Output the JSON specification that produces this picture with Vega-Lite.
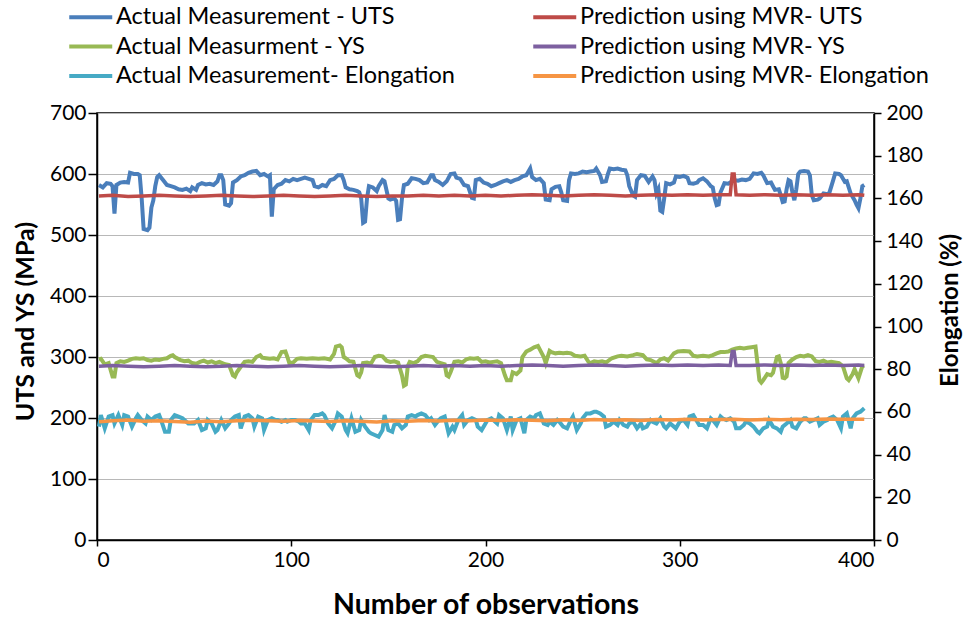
{
  "$schema": "https://vega.github.io/schema/vega-lite/v6.json",
  "width": 777,
  "height": 427,
  "autosize": {"type": "none"},
  "padding": {"left": 97, "top": 113, "right": 95, "bottom": 81},
  "background": "#ffffff",
  "config": {
    "font": "Lato",
    "view": {"stroke": "#000000", "strokeWidth": 1.5},
    "axis": {"labelColor": "#000000", "titleColor": "#000000", "domainColor": "#000000", "tickColor": "#000000", "domainWidth": 1.5, "tickWidth": 1.5, "labelFont": "Lato", "titleFont": "Lato"}
  },
  "datasets": {
    "uts": [
      {"n":1,"v":582},{"n":3,"v":578},{"n":5,"v":585},{"n":7,"v":584},{"n":8,"v":580},{"n":9,"v":535},{"n":10,"v":582},{"n":12,"v":586},{"n":14,"v":587},{"n":16,"v":586},{"n":17,"v":602},{"n":19,"v":600},{"n":21,"v":600},{"n":22,"v":598},{"n":23,"v":560},{"n":24,"v":510},{"n":26,"v":508},{"n":27,"v":512},{"n":28,"v":545},{"n":29,"v":557},{"n":30,"v":580},{"n":31,"v":595},{"n":32,"v":598},{"n":34,"v":590},{"n":36,"v":582},{"n":38,"v":580},{"n":40,"v":578},{"n":42,"v":575},{"n":44,"v":574},{"n":46,"v":576},{"n":48,"v":572},{"n":49,"v":578},{"n":51,"v":574},{"n":52,"v":582},{"n":54,"v":585},{"n":56,"v":583},{"n":58,"v":584},{"n":60,"v":582},{"n":62,"v":588},{"n":63,"v":598},{"n":64,"v":598},{"n":65,"v":590},{"n":66,"v":550},{"n":68,"v":548},{"n":69,"v":552},{"n":70,"v":586},{"n":72,"v":590},{"n":74,"v":596},{"n":76,"v":598},{"n":78,"v":602},{"n":80,"v":604},{"n":82,"v":605},{"n":84,"v":598},{"n":86,"v":600},{"n":88,"v":596},{"n":89,"v":598},{"n":90,"v":530},{"n":91,"v":575},{"n":93,"v":582},{"n":95,"v":584},{"n":97,"v":590},{"n":99,"v":588},{"n":101,"v":592},{"n":103,"v":590},{"n":105,"v":592},{"n":107,"v":594},{"n":109,"v":592},{"n":111,"v":590},{"n":112,"v":580},{"n":114,"v":578},{"n":116,"v":582},{"n":118,"v":580},{"n":120,"v":590},{"n":122,"v":592},{"n":124,"v":598},{"n":126,"v":598},{"n":127,"v":590},{"n":128,"v":578},{"n":130,"v":575},{"n":132,"v":574},{"n":134,"v":572},{"n":135,"v":570},{"n":136,"v":560},{"n":137,"v":520},{"n":138,"v":522},{"n":139,"v":560},{"n":140,"v":580},{"n":142,"v":578},{"n":144,"v":572},{"n":145,"v":580},{"n":147,"v":590},{"n":148,"v":588},{"n":150,"v":560},{"n":151,"v":558},{"n":153,"v":560},{"n":154,"v":556},{"n":155,"v":525},{"n":156,"v":526},{"n":157,"v":560},{"n":158,"v":582},{"n":160,"v":584},{"n":162,"v":593},{"n":164,"v":592},{"n":166,"v":590},{"n":168,"v":585},{"n":170,"v":586},{"n":172,"v":598},{"n":173,"v":598},{"n":174,"v":590},{"n":176,"v":587},{"n":178,"v":582},{"n":180,"v":588},{"n":182,"v":600},{"n":184,"v":601},{"n":185,"v":594},{"n":187,"v":592},{"n":189,"v":582},{"n":191,"v":580},{"n":193,"v":561},{"n":194,"v":560},{"n":195,"v":590},{"n":197,"v":592},{"n":199,"v":586},{"n":201,"v":584},{"n":203,"v":580},{"n":205,"v":582},{"n":207,"v":585},{"n":209,"v":588},{"n":211,"v":590},{"n":213,"v":587},{"n":215,"v":590},{"n":217,"v":592},{"n":219,"v":596},{"n":221,"v":598},{"n":223,"v":609},{"n":224,"v":595},{"n":226,"v":590},{"n":228,"v":592},{"n":230,"v":585},{"n":231,"v":558},{"n":233,"v":557},{"n":234,"v":575},{"n":236,"v":579},{"n":238,"v":580},{"n":239,"v":570},{"n":240,"v":557},{"n":242,"v":556},{"n":243,"v":590},{"n":244,"v":601},{"n":246,"v":600},{"n":248,"v":601},{"n":250,"v":604},{"n":252,"v":603},{"n":254,"v":604},{"n":256,"v":605},{"n":257,"v":609},{"n":259,"v":598},{"n":260,"v":587},{"n":262,"v":588},{"n":263,"v":600},{"n":264,"v":609},{"n":266,"v":608},{"n":268,"v":609},{"n":270,"v":607},{"n":272,"v":606},{"n":273,"v":598},{"n":274,"v":580},{"n":276,"v":565},{"n":277,"v":563},{"n":278,"v":590},{"n":280,"v":598},{"n":282,"v":597},{"n":284,"v":587},{"n":286,"v":596},{"n":287,"v":590},{"n":288,"v":568},{"n":289,"v":575},{"n":290,"v":540},{"n":291,"v":538},{"n":292,"v":560},{"n":293,"v":585},{"n":295,"v":583},{"n":297,"v":586},{"n":298,"v":596},{"n":300,"v":595},{"n":302,"v":597},{"n":304,"v":594},{"n":305,"v":585},{"n":307,"v":584},{"n":309,"v":586},{"n":310,"v":590},{"n":312,"v":593},{"n":314,"v":588},{"n":316,"v":580},{"n":317,"v":578},{"n":318,"v":560},{"n":319,"v":549},{"n":320,"v":550},{"n":321,"v":570},{"n":323,"v":585},{"n":325,"v":584},{"n":326,"v":586},{"n":328,"v":590},{"n":330,"v":589},{"n":332,"v":591},{"n":334,"v":590},{"n":336,"v":592},{"n":338,"v":601},{"n":340,"v":600},{"n":342,"v":602},{"n":343,"v":598},{"n":345,"v":585},{"n":347,"v":586},{"n":348,"v":580},{"n":349,"v":574},{"n":351,"v":575},{"n":352,"v":565},{"n":353,"v":554},{"n":354,"v":555},{"n":355,"v":575},{"n":356,"v":590},{"n":357,"v":588},{"n":358,"v":570},{"n":359,"v":557},{"n":360,"v":575},{"n":361,"v":600},{"n":362,"v":604},{"n":364,"v":605},{"n":366,"v":604},{"n":367,"v":598},{"n":368,"v":565},{"n":369,"v":557},{"n":371,"v":558},{"n":372,"v":560},{"n":374,"v":568},{"n":376,"v":567},{"n":377,"v":569},{"n":379,"v":590},{"n":380,"v":601},{"n":382,"v":600},{"n":383,"v":598},{"n":385,"v":587},{"n":386,"v":588},{"n":388,"v":568},{"n":390,"v":557},{"n":391,"v":550},{"n":392,"v":544},{"n":393,"v":560},{"n":394,"v":580},{"n":395,"v":582}
    ],
    "puts": [
      {"n":1,"v":564},{"n":8,"v":565},{"n":16,"v":563},{"n":24,"v":564},{"n":32,"v":565},{"n":40,"v":564},{"n":48,"v":563},{"n":56,"v":564},{"n":64,"v":565},{"n":72,"v":564},{"n":80,"v":563},{"n":88,"v":564},{"n":96,"v":565},{"n":104,"v":564},{"n":112,"v":563},{"n":120,"v":564},{"n":128,"v":565},{"n":136,"v":564},{"n":144,"v":563},{"n":152,"v":564},{"n":160,"v":564},{"n":168,"v":565},{"n":176,"v":564},{"n":184,"v":565},{"n":192,"v":564},{"n":200,"v":565},{"n":208,"v":564},{"n":216,"v":565},{"n":224,"v":566},{"n":232,"v":565},{"n":240,"v":564},{"n":248,"v":565},{"n":256,"v":566},{"n":264,"v":565},{"n":272,"v":564},{"n":280,"v":565},{"n":288,"v":566},{"n":296,"v":565},{"n":304,"v":566},{"n":312,"v":565},{"n":320,"v":566},{"n":326,"v":566},{"n":327,"v":600},{"n":328,"v":600},{"n":329,"v":566},{"n":336,"v":565},{"n":344,"v":566},{"n":352,"v":565},{"n":360,"v":566},{"n":368,"v":565},{"n":376,"v":566},{"n":384,"v":565},{"n":392,"v":566},{"n":395,"v":565}
    ],
    "ys": [
      {"n":1,"v":296},{"n":2,"v":297},{"n":4,"v":288},{"n":6,"v":290},{"n":8,"v":268},{"n":9,"v":268},{"n":10,"v":290},{"n":12,"v":293},{"n":14,"v":292},{"n":16,"v":294},{"n":18,"v":297},{"n":20,"v":298},{"n":22,"v":297},{"n":24,"v":298},{"n":26,"v":295},{"n":28,"v":294},{"n":30,"v":296},{"n":32,"v":295},{"n":34,"v":297},{"n":36,"v":298},{"n":38,"v":302},{"n":39,"v":303},{"n":40,"v":300},{"n":43,"v":295},{"n":45,"v":293},{"n":47,"v":294},{"n":49,"v":290},{"n":51,"v":289},{"n":53,"v":292},{"n":55,"v":294},{"n":57,"v":291},{"n":59,"v":293},{"n":61,"v":290},{"n":63,"v":292},{"n":66,"v":288},{"n":68,"v":287},{"n":70,"v":270},{"n":71,"v":268},{"n":72,"v":275},{"n":74,"v":284},{"n":76,"v":292},{"n":78,"v":293},{"n":80,"v":292},{"n":82,"v":300},{"n":84,"v":303},{"n":85,"v":299},{"n":87,"v":298},{"n":89,"v":297},{"n":91,"v":298},{"n":93,"v":296},{"n":95,"v":308},{"n":97,"v":309},{"n":98,"v":300},{"n":99,"v":290},{"n":101,"v":291},{"n":103,"v":297},{"n":105,"v":298},{"n":108,"v":297},{"n":111,"v":298},{"n":114,"v":297},{"n":117,"v":298},{"n":120,"v":296},{"n":122,"v":305},{"n":123,"v":317},{"n":125,"v":319},{"n":126,"v":316},{"n":127,"v":300},{"n":128,"v":298},{"n":130,"v":293},{"n":132,"v":292},{"n":134,"v":270},{"n":135,"v":268},{"n":136,"v":275},{"n":137,"v":290},{"n":139,"v":291},{"n":141,"v":289},{"n":143,"v":300},{"n":145,"v":302},{"n":147,"v":301},{"n":149,"v":294},{"n":151,"v":292},{"n":153,"v":293},{"n":155,"v":291},{"n":157,"v":270},{"n":158,"v":253},{"n":159,"v":255},{"n":160,"v":285},{"n":161,"v":292},{"n":163,"v":290},{"n":165,"v":293},{"n":167,"v":300},{"n":169,"v":302},{"n":171,"v":301},{"n":173,"v":300},{"n":175,"v":292},{"n":177,"v":290},{"n":179,"v":288},{"n":180,"v":270},{"n":181,"v":268},{"n":182,"v":275},{"n":184,"v":292},{"n":186,"v":293},{"n":188,"v":291},{"n":190,"v":296},{"n":192,"v":298},{"n":194,"v":297},{"n":196,"v":298},{"n":198,"v":292},{"n":200,"v":293},{"n":202,"v":291},{"n":204,"v":292},{"n":206,"v":293},{"n":208,"v":290},{"n":210,"v":270},{"n":211,"v":262},{"n":213,"v":262},{"n":214,"v":275},{"n":216,"v":272},{"n":218,"v":278},{"n":219,"v":300},{"n":221,"v":309},{"n":223,"v":312},{"n":225,"v":316},{"n":227,"v":318},{"n":228,"v":312},{"n":229,"v":306},{"n":230,"v":300},{"n":231,"v":290},{"n":233,"v":310},{"n":234,"v":308},{"n":236,"v":306},{"n":238,"v":307},{"n":240,"v":306},{"n":242,"v":307},{"n":244,"v":306},{"n":246,"v":302},{"n":249,"v":301},{"n":251,"v":302},{"n":253,"v":292},{"n":254,"v":290},{"n":256,"v":293},{"n":258,"v":292},{"n":260,"v":293},{"n":262,"v":291},{"n":265,"v":298},{"n":268,"v":301},{"n":270,"v":302},{"n":273,"v":301},{"n":276,"v":303},{"n":278,"v":305},{"n":281,"v":303},{"n":283,"v":296},{"n":285,"v":295},{"n":288,"v":290},{"n":290,"v":296},{"n":292,"v":298},{"n":294,"v":294},{"n":297,"v":306},{"n":299,"v":309},{"n":302,"v":310},{"n":305,"v":309},{"n":307,"v":302},{"n":309,"v":301},{"n":312,"v":302},{"n":315,"v":301},{"n":317,"v":303},{"n":319,"v":306},{"n":321,"v":308},{"n":323,"v":308},{"n":325,"v":309},{"n":327,"v":312},{"n":329,"v":314},{"n":331,"v":315},{"n":333,"v":314},{"n":335,"v":315},{"n":337,"v":316},{"n":339,"v":317},{"n":340,"v":290},{"n":341,"v":262},{"n":342,"v":258},{"n":343,"v":262},{"n":345,"v":272},{"n":347,"v":270},{"n":348,"v":274},{"n":350,"v":300},{"n":351,"v":301},{"n":352,"v":290},{"n":353,"v":266},{"n":354,"v":265},{"n":355,"v":268},{"n":356,"v":290},{"n":358,"v":296},{"n":360,"v":300},{"n":362,"v":302},{"n":364,"v":301},{"n":366,"v":303},{"n":368,"v":301},{"n":370,"v":293},{"n":372,"v":292},{"n":374,"v":294},{"n":376,"v":291},{"n":378,"v":292},{"n":380,"v":291},{"n":382,"v":290},{"n":384,"v":285},{"n":386,"v":265},{"n":387,"v":262},{"n":389,"v":272},{"n":390,"v":280},{"n":392,"v":265},{"n":394,"v":285},{"n":395,"v":286}
    ],
    "pys": [
      {"n":1,"v":285},{"n":8,"v":286},{"n":16,"v":285},{"n":24,"v":284},{"n":32,"v":285},{"n":40,"v":286},{"n":48,"v":285},{"n":56,"v":284},{"n":64,"v":285},{"n":72,"v":286},{"n":80,"v":285},{"n":88,"v":284},{"n":96,"v":285},{"n":104,"v":286},{"n":112,"v":285},{"n":120,"v":284},{"n":128,"v":285},{"n":136,"v":286},{"n":144,"v":285},{"n":152,"v":284},{"n":160,"v":285},{"n":168,"v":286},{"n":176,"v":285},{"n":184,"v":286},{"n":192,"v":285},{"n":200,"v":286},{"n":208,"v":285},{"n":216,"v":286},{"n":224,"v":287},{"n":232,"v":286},{"n":240,"v":285},{"n":248,"v":286},{"n":256,"v":287},{"n":264,"v":286},{"n":272,"v":285},{"n":280,"v":286},{"n":288,"v":287},{"n":296,"v":286},{"n":304,"v":287},{"n":312,"v":286},{"n":320,"v":287},{"n":326,"v":286},{"n":327,"v":309},{"n":328,"v":309},{"n":329,"v":286},{"n":336,"v":286},{"n":344,"v":287},{"n":352,"v":286},{"n":360,"v":287},{"n":368,"v":286},{"n":376,"v":287},{"n":384,"v":286},{"n":392,"v":287},{"n":395,"v":286}
    ],
    "el": [
      {"n":1,"v":53.1},{"n":2,"v":58.5},{"n":4,"v":52.3},{"n":6,"v":57.8},{"n":8,"v":58.5},{"n":9,"v":54.6},{"n":11,"v":58.5},{"n":13,"v":53.9},{"n":14,"v":58.5},{"n":16,"v":57.8},{"n":18,"v":53.1},{"n":20,"v":57.0},{"n":21,"v":58.5},{"n":23,"v":56.2},{"n":25,"v":54.6},{"n":26,"v":57.8},{"n":28,"v":56.2},{"n":30,"v":57.8},{"n":32,"v":58.5},{"n":33,"v":56.2},{"n":35,"v":50.7},{"n":37,"v":50.7},{"n":38,"v":56.2},{"n":40,"v":58.5},{"n":42,"v":57.8},{"n":44,"v":57.0},{"n":45,"v":56.2},{"n":47,"v":54.6},{"n":49,"v":54.6},{"n":50,"v":54.6},{"n":52,"v":56.2},{"n":54,"v":51.5},{"n":56,"v":52.3},{"n":57,"v":56.2},{"n":59,"v":54.6},{"n":61,"v":50.7},{"n":62,"v":51.5},{"n":64,"v":56.2},{"n":66,"v":52.3},{"n":68,"v":54.6},{"n":69,"v":56.2},{"n":71,"v":57.8},{"n":73,"v":58.5},{"n":74,"v":52.3},{"n":76,"v":57.8},{"n":78,"v":58.5},{"n":80,"v":57.0},{"n":81,"v":53.1},{"n":83,"v":57.8},{"n":85,"v":57.0},{"n":86,"v":51.5},{"n":88,"v":56.2},{"n":90,"v":57.0},{"n":92,"v":56.2},{"n":93,"v":56.2},{"n":95,"v":55.4},{"n":97,"v":56.2},{"n":98,"v":55.4},{"n":100,"v":56.2},{"n":102,"v":56.2},{"n":104,"v":55.4},{"n":105,"v":54.6},{"n":107,"v":54.6},{"n":109,"v":51.5},{"n":110,"v":56.2},{"n":112,"v":58.5},{"n":114,"v":58.5},{"n":116,"v":59.3},{"n":117,"v":58.5},{"n":119,"v":54.6},{"n":121,"v":52.3},{"n":123,"v":56.2},{"n":124,"v":59.3},{"n":126,"v":57.8},{"n":128,"v":51.5},{"n":129,"v":50.0},{"n":131,"v":57.0},{"n":133,"v":50.7},{"n":135,"v":51.5},{"n":136,"v":56.2},{"n":138,"v":53.1},{"n":140,"v":50.7},{"n":141,"v":50.0},{"n":143,"v":49.2},{"n":145,"v":48.4},{"n":147,"v":51.5},{"n":148,"v":58.5},{"n":150,"v":51.5},{"n":152,"v":50.7},{"n":153,"v":53.9},{"n":155,"v":54.6},{"n":157,"v":52.3},{"n":159,"v":53.9},{"n":160,"v":57.8},{"n":162,"v":58.5},{"n":164,"v":57.8},{"n":165,"v":58.5},{"n":167,"v":59.3},{"n":169,"v":58.5},{"n":171,"v":56.2},{"n":172,"v":57.0},{"n":174,"v":53.9},{"n":176,"v":56.2},{"n":177,"v":57.0},{"n":179,"v":57.8},{"n":181,"v":50.0},{"n":183,"v":53.1},{"n":184,"v":51.5},{"n":186,"v":56.2},{"n":188,"v":58.5},{"n":189,"v":53.9},{"n":191,"v":56.2},{"n":193,"v":57.0},{"n":195,"v":56.2},{"n":196,"v":53.1},{"n":198,"v":51.5},{"n":200,"v":54.6},{"n":201,"v":56.2},{"n":203,"v":57.0},{"n":204,"v":56.2},{"n":206,"v":54.6},{"n":207,"v":58.5},{"n":209,"v":57.0},{"n":211,"v":51.5},{"n":213,"v":57.8},{"n":214,"v":51.5},{"n":216,"v":56.2},{"n":218,"v":57.0},{"n":220,"v":50.0},{"n":221,"v":56.2},{"n":223,"v":57.8},{"n":225,"v":57.0},{"n":226,"v":58.5},{"n":228,"v":59.3},{"n":230,"v":54.6},{"n":232,"v":53.9},{"n":233,"v":55.4},{"n":235,"v":53.9},{"n":237,"v":56.2},{"n":238,"v":55.4},{"n":240,"v":53.1},{"n":242,"v":52.3},{"n":244,"v":56.2},{"n":245,"v":57.8},{"n":247,"v":51.5},{"n":249,"v":54.6},{"n":250,"v":57.0},{"n":252,"v":59.3},{"n":254,"v":59.3},{"n":256,"v":60.1},{"n":257,"v":60.1},{"n":259,"v":59.3},{"n":261,"v":57.8},{"n":262,"v":53.1},{"n":264,"v":53.9},{"n":266,"v":55.4},{"n":268,"v":53.9},{"n":269,"v":56.2},{"n":271,"v":53.9},{"n":273,"v":53.1},{"n":274,"v":54.6},{"n":276,"v":55.4},{"n":278,"v":52.3},{"n":280,"v":54.6},{"n":281,"v":52.3},{"n":283,"v":53.1},{"n":285,"v":56.2},{"n":286,"v":55.4},{"n":288,"v":54.6},{"n":290,"v":57.0},{"n":292,"v":53.1},{"n":293,"v":52.3},{"n":295,"v":54.6},{"n":297,"v":53.1},{"n":298,"v":52.3},{"n":300,"v":55.4},{"n":302,"v":56.2},{"n":304,"v":53.9},{"n":305,"v":57.8},{"n":307,"v":58.5},{"n":309,"v":55.4},{"n":310,"v":53.9},{"n":312,"v":53.9},{"n":314,"v":52.3},{"n":316,"v":57.0},{"n":317,"v":56.2},{"n":319,"v":53.9},{"n":321,"v":57.8},{"n":322,"v":57.0},{"n":324,"v":56.2},{"n":326,"v":57.0},{"n":328,"v":55.4},{"n":329,"v":52.3},{"n":331,"v":52.3},{"n":333,"v":53.9},{"n":334,"v":55.4},{"n":336,"v":54.6},{"n":338,"v":53.1},{"n":340,"v":50.7},{"n":341,"v":50.0},{"n":343,"v":52.3},{"n":345,"v":53.1},{"n":346,"v":56.2},{"n":348,"v":53.1},{"n":350,"v":52.3},{"n":352,"v":50.7},{"n":353,"v":53.1},{"n":355,"v":54.6},{"n":357,"v":56.2},{"n":358,"v":53.1},{"n":360,"v":52.3},{"n":362,"v":55.4},{"n":364,"v":57.0},{"n":365,"v":57.0},{"n":367,"v":55.4},{"n":369,"v":56.2},{"n":371,"v":57.0},{"n":372,"v":53.9},{"n":374,"v":55.4},{"n":376,"v":56.2},{"n":377,"v":57.0},{"n":379,"v":57.8},{"n":381,"v":56.2},{"n":383,"v":52.3},{"n":384,"v":57.8},{"n":386,"v":59.3},{"n":388,"v":52.3},{"n":389,"v":57.0},{"n":391,"v":59.3},{"n":393,"v":60.1},{"n":395,"v":61.7}
    ],
    "pel": [
      {"n":1,"v":55.4},{"n":8,"v":55.8},{"n":16,"v":56.2},{"n":24,"v":55.6},{"n":32,"v":55.9},{"n":40,"v":55.5},{"n":48,"v":55.2},{"n":56,"v":55.7},{"n":64,"v":55.4},{"n":72,"v":55.9},{"n":80,"v":56.1},{"n":88,"v":55.8},{"n":96,"v":55.6},{"n":104,"v":56.0},{"n":112,"v":55.7},{"n":120,"v":55.5},{"n":128,"v":55.9},{"n":136,"v":55.6},{"n":144,"v":55.3},{"n":152,"v":55.8},{"n":160,"v":55.6},{"n":168,"v":56.0},{"n":176,"v":55.7},{"n":184,"v":56.1},{"n":192,"v":55.8},{"n":200,"v":56.2},{"n":208,"v":56.0},{"n":216,"v":56.3},{"n":224,"v":56.1},{"n":232,"v":55.9},{"n":240,"v":56.3},{"n":248,"v":56.0},{"n":256,"v":56.4},{"n":264,"v":56.1},{"n":272,"v":56.3},{"n":280,"v":56.0},{"n":288,"v":56.4},{"n":296,"v":56.2},{"n":304,"v":56.5},{"n":312,"v":56.2},{"n":320,"v":56.4},{"n":328,"v":56.6},{"n":336,"v":56.2},{"n":344,"v":56.5},{"n":352,"v":56.3},{"n":360,"v":56.6},{"n":368,"v":56.4},{"n":376,"v":56.7},{"n":384,"v":56.5},{"n":392,"v":56.6},{"n":395,"v":56.5}
    ]
  },
  "encoding": {
    "x": {
      "field": "n", "type": "quantitative",
      "scale": {"domain": [0, 400], "nice": false},
      "axis": {"title": "Number of observations", "values": [0, 100, 200, 300, 400], "grid": false, "tickSize": 6, "labelFontSize": 21, "labelPadding": 3, "titleFontSize": 28.5, "titleFontWeight": "bold", "titleY": 64, "titleBaseline": "middle"}
    }
  },
  "layer": [
    {
      "encoding": {
        "y": {
          "field": "v", "type": "quantitative",
          "scale": {"domain": [0, 700], "nice": false},
          "axis": {"title": "UTS and YS (MPa)", "orient": "left", "values": [0, 100, 200, 300, 400, 500, 600, 700], "grid": true, "gridColor": "#b8b8b8", "gridWidth": 1, "tickSize": 9, "labelFontSize": 21, "labelPadding": 2, "titleFontSize": 25, "titleFontWeight": "bold", "titleAngle": 270, "titleBaseline": "middle", "titleAlign": "center", "titleX": -72, "titleY": 208}
        }
      },
      "layer": [
        {"data": {"name": "uts"}, "mark": {"type": "line", "strokeWidth": 4},
         "encoding": {"color": {"datum": "Actual Measurement - UTS", "scale": {"domain": ["Actual Measurement - UTS", "Prediction using MVR- UTS", "Actual Measurment - YS", "Prediction using MVR- YS", "Actual Measurement- Elongation", "Prediction using MVR- Elongation"], "range": ["#4A7EBB", "#BE4B48", "#98B954", "#7D60A0", "#46AAC5", "#F69544"]},
           "legend": {"title": null, "orient": "none", "legendX": -30, "legendY": -109, "columns": 2, "direction": "horizontal", "symbolType": "M-1,0H3", "symbolSize": 462, "symbolStrokeWidth": 4, "symbolFillColor": "transparent", "labelFontSize": 23.5, "labelFont": "Lato", "labelColor": "#000000", "labelOffset": 23, "rowPadding": 4.5, "columnPadding": 70, "padding": 0, "labelLimit": 500}}}},
        {"data": {"name": "puts"}, "mark": {"type": "line", "strokeWidth": 3.5},
         "encoding": {"color": {"datum": "Prediction using MVR- UTS"}}},
        {"data": {"name": "ys"}, "mark": {"type": "line", "strokeWidth": 4},
         "encoding": {"color": {"datum": "Actual Measurment - YS"}}},
        {"data": {"name": "pys"}, "mark": {"type": "line", "strokeWidth": 3.5},
         "encoding": {"color": {"datum": "Prediction using MVR- YS"}}}
      ]
    },
    {
      "encoding": {
        "y": {
          "field": "v", "type": "quantitative",
          "scale": {"domain": [0, 200], "nice": false},
          "axis": {"title": "Elongation (%)", "orient": "right", "values": [0, 20, 40, 60, 80, 100, 120, 140, 160, 180, 200], "grid": false, "tickSize": 7, "labelFontSize": 21, "labelPadding": 5, "titleFontSize": 24, "titleFontWeight": "bold", "titleAngle": 270, "titleBaseline": "middle", "titleAlign": "center", "titleX": 76, "titleY": 197}
        }
      },
      "layer": [
        {"data": {"name": "el"}, "mark": {"type": "line", "strokeWidth": 4},
         "encoding": {"color": {"datum": "Actual Measurement- Elongation"}}},
        {"data": {"name": "pel"}, "mark": {"type": "line", "strokeWidth": 3.5},
         "encoding": {"color": {"datum": "Prediction using MVR- Elongation"}}}
      ]
    }
  ],
  "resolve": {"scale": {"y": "independent"}}
}
